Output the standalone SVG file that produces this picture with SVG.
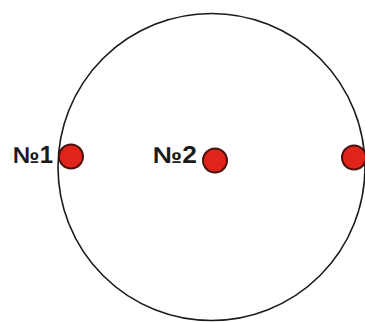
<svg xmlns="http://www.w3.org/2000/svg" width="365" height="322" viewBox="0 0 365 322">
<style>
.dot{fill:#e0241a;stroke:#4a100c;stroke-width:2}
.lbl{font-family:"Liberation Sans",Arial,sans-serif;font-weight:bold;font-size:23px;fill:#1a1a1a}
</style>
<rect width="365" height="322" fill="#ffffff"/>
<g id="ring"><circle cx="211.5" cy="167" r="153.5" fill="none" stroke="#1a1a1a" stroke-width="1.6"/></g>
<g id="p1"><circle class="dot" cx="71" cy="156.5" r="12"/><text class="lbl" x="13" y="163" textLength="40" lengthAdjust="spacingAndGlyphs">№1</text></g>
<g id="p2"><circle class="dot" cx="215" cy="160.5" r="12"/><text class="lbl" x="153" y="163" textLength="44" lengthAdjust="spacingAndGlyphs">№2</text></g>
<g id="p3"><circle class="dot" cx="354" cy="157.5" r="12"/></g>
</svg>
